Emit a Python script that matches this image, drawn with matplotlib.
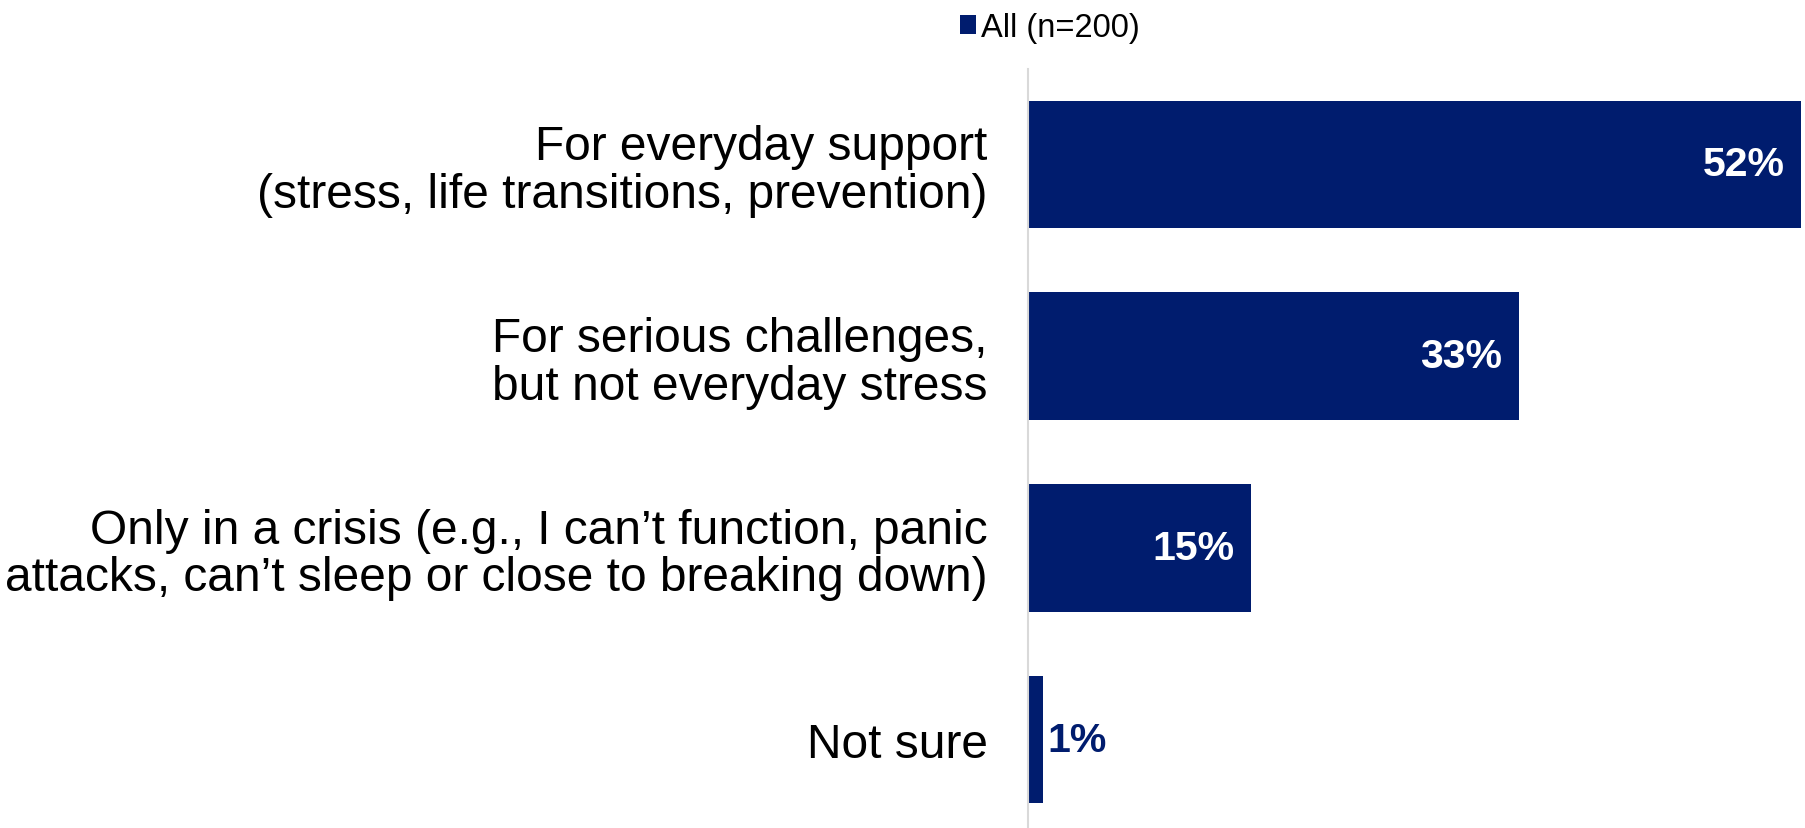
import matplotlib.pyplot as plt

plt.rcParams['font.family'] = ['Liberation Sans', 'DejaVu Sans']

categories = [
    'For everyday support\n(stress, life transitions, prevention)',
    'For serious challenges,\nbut not everyday stress',
    'Only in a crisis (e.g., I can\u2019t function, panic\nattacks, can\u2019t sleep or close to breaking down)',
    'Not sure',
]
values = [52, 33, 15, 1]
series_name = 'All (n=200)'

navy = '#001c6e'

fig = plt.figure(figsize=(18.05, 8.29), dpi=100)
ax = fig.add_axes([1028 / 1805, -0.009, 1 - 1028 / 1805, 0.925])

y = range(len(categories))
bars = ax.barh(y, values, height=0.665, color=navy, label=series_name)

ax.set_xlim(0, 52.25)
ax.set_ylim(3.5, -0.5)

ax.set_yticks(list(y))
ax.set_yticklabels(categories, fontsize=34.5, linespacing=1.07)
ax.tick_params(axis='y', length=0, pad=29)
ax.set_xticks([])

for s in ['top', 'right', 'bottom']:
    ax.spines[s].set_visible(False)
ax.spines['left'].set_color('#d9d9d9')
ax.spines['left'].set_linewidth(1.5)

# value labels: inside the bar in white, outside when the bar is too short
for bar, v in zip(bars, values):
    yc = bar.get_y() + bar.get_height() / 2
    if v >= 5:
        ax.text(v - 1.1, yc, f'{v}%', ha='right', va='center',
                color='white', fontsize=29.5, fontweight='bold')
    else:
        ax.text(v + 0.3, yc, f'{v}%', ha='left', va='center',
                color=navy, fontsize=29.5, fontweight='bold')

fig.legend(loc='upper center', bbox_to_anchor=(1050 / 1805, 1.02), frameon=False,
           fontsize=23.5, handlelength=0.5, handleheight=0.5, handletextpad=0.15)

fig.savefig('out.png', dpi=100)
plt.close(fig)
